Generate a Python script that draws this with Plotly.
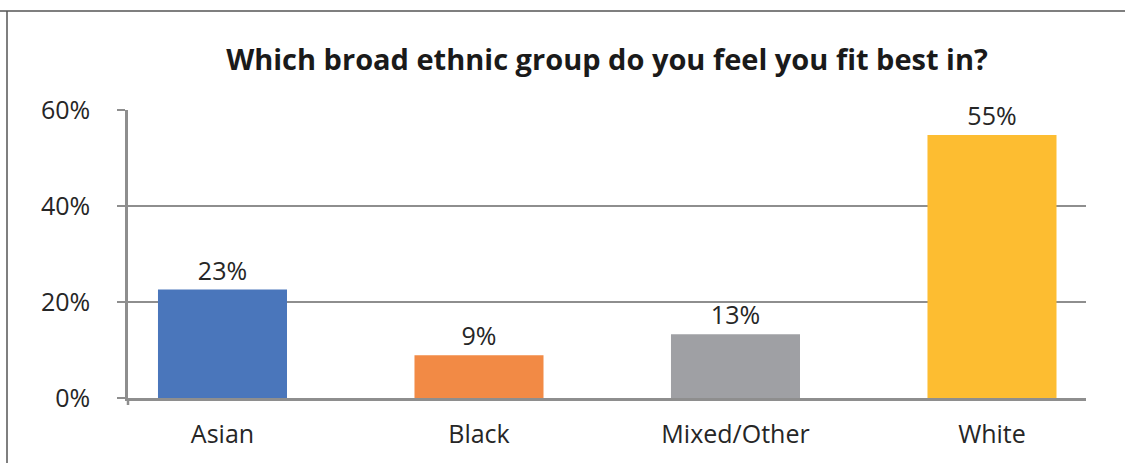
import plotly.graph_objects as go

categories = ["Asian", "Black", "Mixed/Other", "White"]
bar_values = [0.226, 0.089, 0.133, 0.548]
labels = ["23%", "9%", "13%", "55%"]
colors = ["#4a76bb", "#f28a45", "#9fa0a4", "#fdbd31"]
title = "Which broad ethnic group do you feel you fit best in?"

W, H = 1125, 463
L, R, T, B = 128, 39, 110, 65
pw, ph = W - L - R, H - T - B

def px_x(px):
    return (px - L) / pw

def px_y(py):
    return (H - B - py) / ph

FONT = "Open Sans"
GRID = "#8e8e8e"
TXT = "#262626"
FS = 25

fig = go.Figure(go.Bar(
    x=categories, y=bar_values, marker_color=colors, marker_line_width=0,
    width=0.503, text=labels, textposition="outside",
    textfont=dict(size=FS, color=TXT, family=FONT), cliponaxis=False,
))

fig.update_layout(
    width=W, height=H, margin=dict(l=L, r=R, t=T, b=B),
    paper_bgcolor="white", plot_bgcolor="white", showlegend=False,
    title=dict(text="<b>" + title + "</b>", x=0.5, xref="paper", xanchor="center",
               y=1 - 60 / H, yanchor="middle", yref="container",
               font=dict(size=29, color="#1a1a1a", family=FONT)),
    font=dict(family=FONT, size=FS, color=TXT),
    bargap=0.5,
)
fig.update_xaxes(range=[-0.3684, 3.3665], showline=True, linecolor=GRID, linewidth=2.5,
                 showgrid=False, ticks="", tickfont=dict(size=FS, color=TXT),
                 ticklabelstandoff=12)
fig.update_yaxes(range=[0, 0.6], dtick=0.2, tickformat=".0%", showgrid=True,
                 gridcolor=GRID, gridwidth=2, zeroline=False, showline=True,
                 linecolor=GRID, linewidth=2.5, ticks="outside", ticklen=8,
                 tickcolor=GRID, tickwidth=2, tickfont=dict(size=FS, color=TXT),
                 ticklabelstandoff=22)

# small downward tick at the left end of the category axis
fig.add_shape(type="line", xref="paper", yref="paper", x0=0, x1=0,
              y0=0, y1=px_y(405), line=dict(color=GRID, width=2.5))

# outer frame (top and left edges)
fig.add_shape(type="line", xref="paper", yref="paper", x0=px_x(0), x1=px_x(W),
              y0=px_y(11), y1=px_y(11), line=dict(color="#555555", width=1.5))
fig.add_shape(type="line", xref="paper", yref="paper", x0=px_x(7), x1=px_x(7),
              y0=px_y(11), y1=px_y(H), line=dict(color="#555555", width=1.5))

fig.write_html("out.html", config={"displayModeBar": False},
               post_script="document.body.style.margin='0';")
